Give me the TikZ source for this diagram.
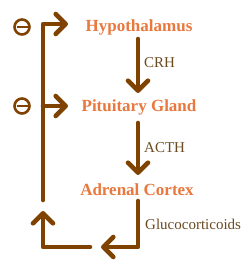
\documentclass[tikz,border=0pt]{standalone}
\usepackage{fontspec}
\setmainfont{Liberation Serif}
\usetikzlibrary{arrows.meta}
\definecolor{brn}{HTML}{7F4200}
\definecolor{org}{HTML}{E8783E}
\definecolor{lbl}{HTML}{6B4A20}
\tikzset{
  organ/.style={inner sep=0pt, anchor=base, text=org, font=\fontsize{17}{20}\selectfont\bfseries, text height=12pt, text depth=4pt},
  hormone/.style={inner sep=0pt, anchor=base west, text=lbl, font=\fontsize{15}{18}\selectfont},
  flow/.style={draw=brn, line width=4.6pt, line cap=round, line join=round,
    -{Straight Barb[length=10pt,width=20pt,line cap=round,line join=round]}},
  inhib/.style={draw=brn, line width=2.6pt, circle, minimum size=15pt, inner sep=0pt}
}
\begin{document}
\begin{tikzpicture}[x=1pt,y=-1pt]
\useasboundingbox (0,0) rectangle (250,264);
\node[organ] (hyp) at (139,32) {Hypothalamus};
\node[organ] (pit) at (139,112) {Pituitary Gland};
\node[organ] (adr) at (137,195) {Adrenal Cortex};
\node[hormone] (crh) at (144,68) {CRH};
\node[hormone] (acth) at (144,152) {ACTH};
\node[hormone] (gluc) at (145,229) {Glucocorticoids};
\coordinate (h1) at (138,39);
\coordinate (h2) at (138,93);
\coordinate (p1) at (138,123);
\coordinate (p2) at (138,175);
\coordinate (a1) at (138,201);
\coordinate (a2) at (138,247);
\coordinate (a3) at (101,247);
\coordinate (r1) at (90,247);
\coordinate (r2) at (43,247);
\coordinate (r3) at (43,211);
\coordinate (f1) at (43,200);
\coordinate (f2) at (43,24);
\coordinate (f3) at (68,24);
\coordinate (b1) at (43,106);
\coordinate (b2) at (68,106);
\draw[flow] (h1) -- (h2);
\draw[flow] (p1) -- (p2);
\draw[flow] (a1) -- (a2) -- (a3);
\draw[flow] (r1) -- (r2) -- (r3);
\draw[flow] (f1) -- (f2) -- (f3);
\draw[flow] (b1) -- (b2);
\node[inhib] (i1) at (22,27) {};
\node[inhib] (i2) at (22,106) {};
\draw[brn, line width=2.6pt] ([xshift=-5.5pt]i1.center) -- ([xshift=5.5pt]i1.center);
\draw[brn, line width=2.6pt] ([xshift=-5.5pt]i2.center) -- ([xshift=5.5pt]i2.center);
\end{tikzpicture}
\end{document}
